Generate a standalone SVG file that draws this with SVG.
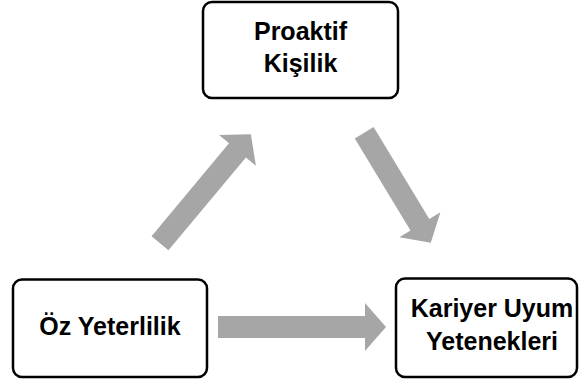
<svg xmlns="http://www.w3.org/2000/svg" width="581" height="380" viewBox="0 0 581 380">
<style>
.box{fill:#fff;stroke:#000;stroke-width:2.5}
.lbl{font-family:"Liberation Sans",Arial,sans-serif;font-weight:bold;font-size:25px;fill:#000;text-anchor:middle}
.arr{fill:#a6a6a6;stroke:none}
</style>
<rect width="581" height="380" fill="#fff"/>
<g id="connectors">
<polygon class="arr" transform="translate(160,243.3) rotate(-50.2)" points="0,-11 121,-11 121,-24 142,0 121,24 121,11 0,11"/>
<polygon class="arr" transform="translate(364.2,132.8) rotate(58.8)" points="0,-11 107.5,-11 107.5,-24 128.5,0 107.5,24 107.5,11 0,11"/>
<polygon class="arr" transform="translate(218,327)" points="0,-11 147,-11 147,-24 168,0 147,24 147,11 0,11"/>
</g>
<g id="proaktif">
<rect class="box" x="203" y="2" width="195" height="96" rx="9"/>
<text class="lbl" x="300.5" y="39.5">Proaktif</text>
<text class="lbl" x="300.5" y="72">Kişilik</text>
</g>
<g id="oz">
<rect class="box" x="13" y="279.5" width="194" height="97.5" rx="9"/>
<text class="lbl" x="110" y="335">Öz Yeterlilik</text>
</g>
<g id="kariyer">
<rect class="box" x="396" y="278.5" width="181" height="98.5" rx="9"/>
<text class="lbl" x="492" y="317">Kariyer Uyum</text>
<text class="lbl" x="492" y="350">Yetenekleri</text>
</g>
</svg>
